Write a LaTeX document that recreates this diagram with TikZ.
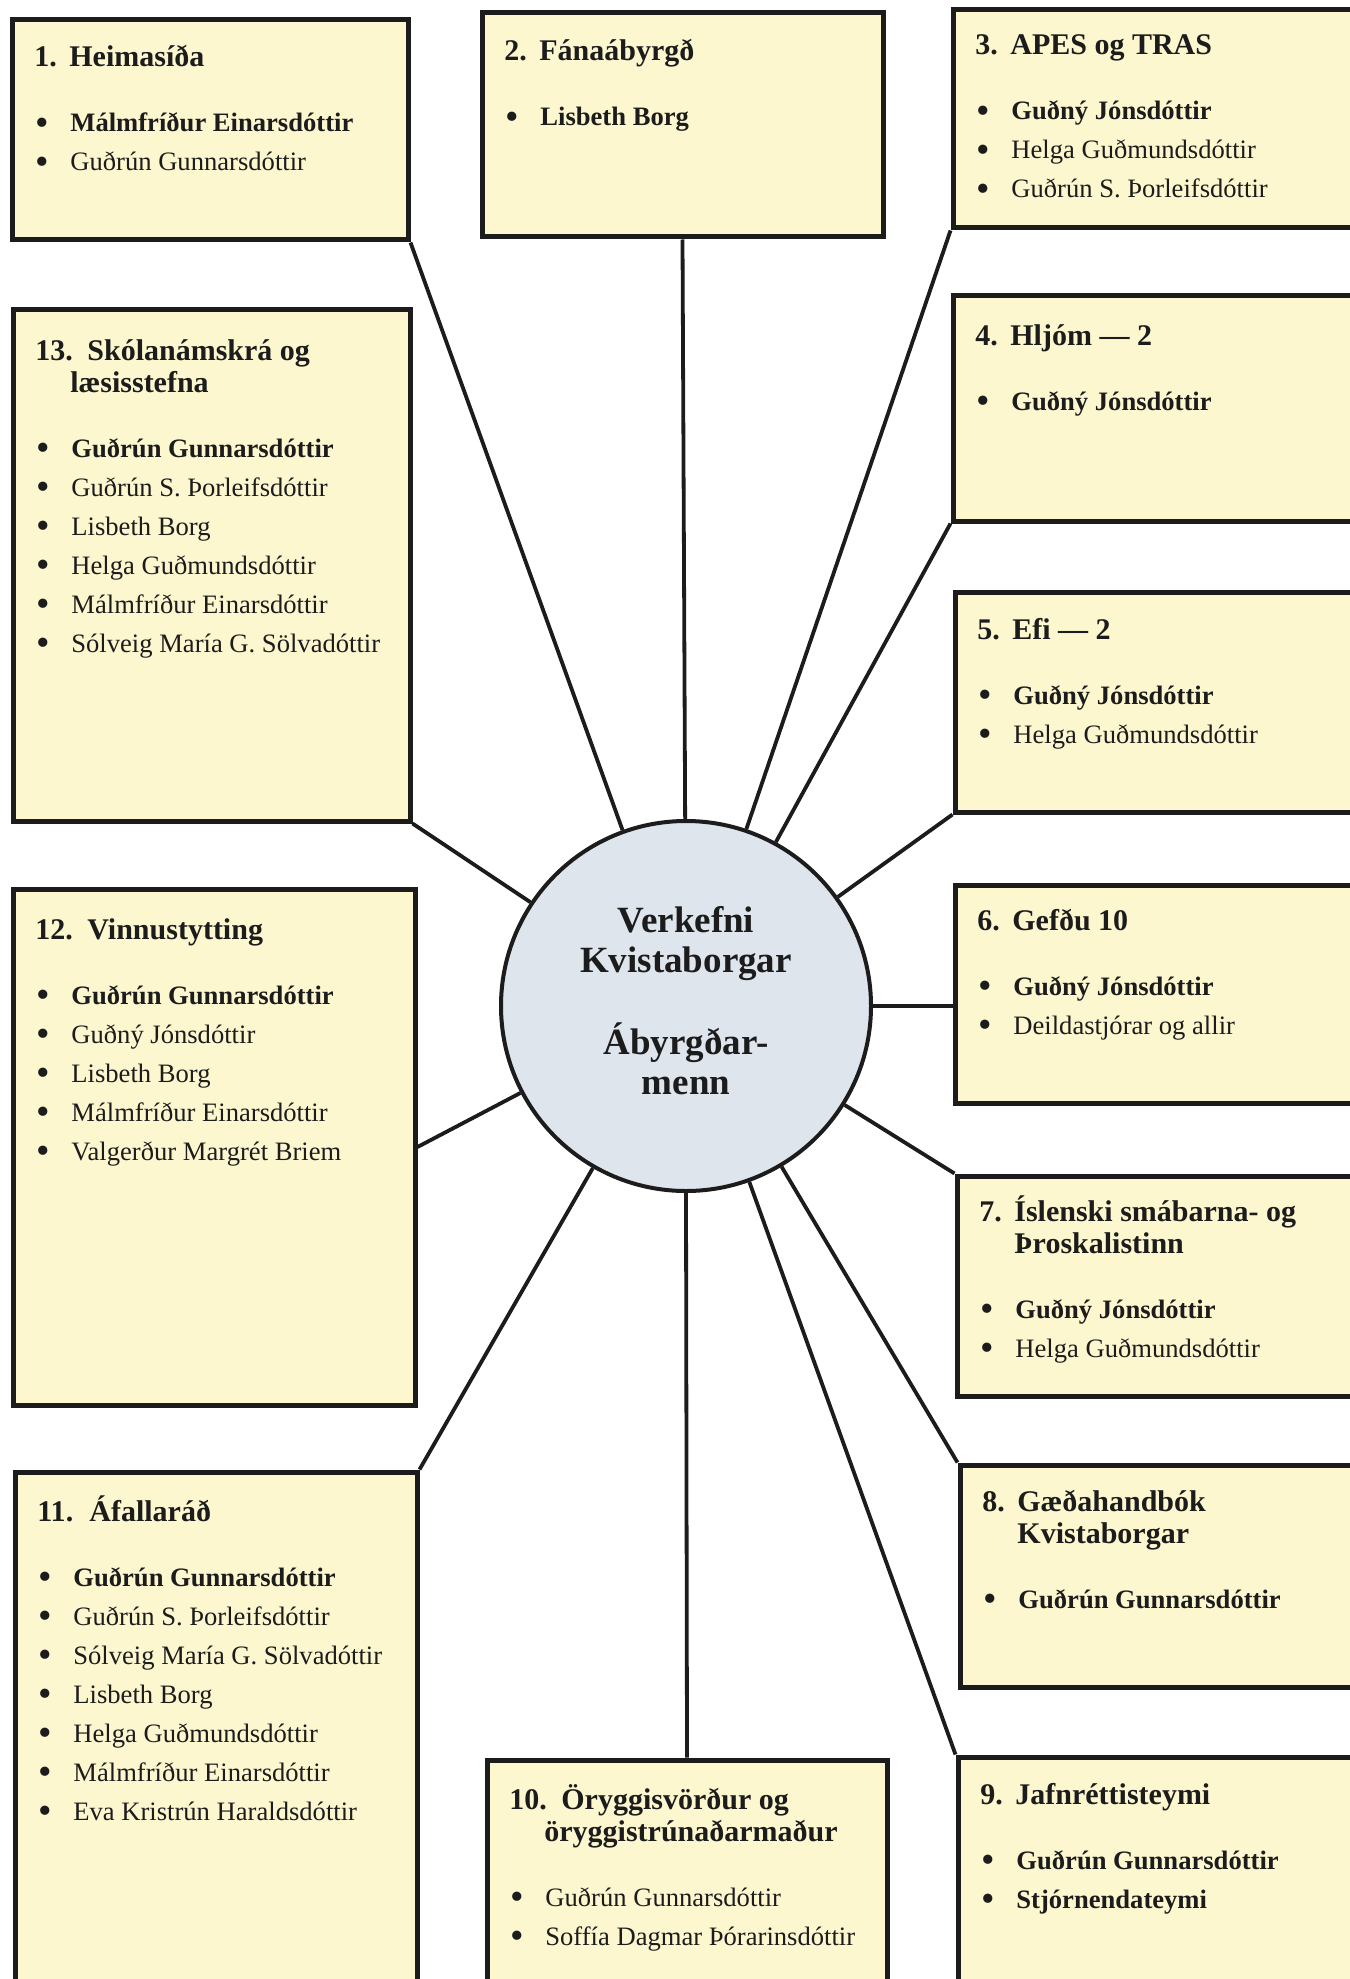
\documentclass[tikz,border=0pt]{standalone}
\usepackage{fontspec}
\setmainfont{Liberation Serif}
\usetikzlibrary{fit}
\definecolor{boxfill}{RGB}{253,247,208}
\definecolor{circfill}{RGB}{222,229,237}
\definecolor{ink}{RGB}{28,28,28}

\newcommand\hfnt{\fontsize{15}{16}\selectfont\bfseries}
\newcommand\bfnt{\fontsize{13.3}{15}\selectfont}
\newcommand\blt{\makebox[18pt][l]{\hskip0.5pt\raisebox{-0.12em}{\scalebox{1.45}{\textbullet}}}}
\newcommand\hdA[2]{\hbox{\hfnt\makebox[17.5pt][l]{#1}#2}}
\newcommand\hdB[2]{\hbox{\hfnt\makebox[26pt][l]{#1}#2}}
\newcommand\hdC[1]{\hbox{\hfnt\hskip17.5pt\relax #1}}
\newcommand\itB[1]{\hbox{\bfnt\blt\textbf{#1}}}
\newcommand\itR[1]{\hbox{\bfnt\blt #1}}
\newcommand\gH{\baselineskip=16.25pt\relax}
\newcommand\gF{\baselineskip=32.5pt\relax}
\newcommand\gI{\baselineskip=19.5pt\relax}
\newcommand\txtblock[1]{\vtop{\lineskiplimit=-\maxdimen\lineskip=0pt\relax #1}}

\begin{document}
\begin{tikzpicture}[x=0.5pt,y=-0.5pt,
  tbox/.style={draw=ink, line width=2.5pt, fill=boxfill, inner sep=0pt},
  tblk/.style={anchor=base west, inner sep=0pt, text=ink},
  conn/.style={draw=ink, line width=1.9pt},
  hub/.style={circle, draw=ink, line width=2pt, fill=circfill, minimum size=185pt,
    inner sep=0pt, align=center, text=ink, font=\fontsize{18.5}{20}\selectfont\bfseries}]
\useasboundingbox (0,0) rectangle (1349,1979);

% boxes
\node[tbox, fit={(12,20) (408,240)}] (b1) {};
\node[tbox, fit={(482,13) (883,237)}] (b2) {};
\node[tbox, fit={(953,10) (1358,228)}] (b3) {};
\node[tbox, fit={(953,296) (1358,521)}] (b4) {};
\node[tbox, fit={(955,592) (1358,812)}] (b5) {};
\node[tbox, fit={(955,885) (1358,1103)}] (b6) {};
\node[tbox, fit={(957,1176) (1358,1396)}] (b7) {};
\node[tbox, fit={(960,1465) (1358,1687)}] (b8) {};
\node[tbox, fit={(958,1757) (1358,1995)}] (b9) {};
\node[tbox, fit={(487,1760) (887,1995)}] (b10) {};
\node[tbox, fit={(15,1472) (417,1995)}] (b11) {};
\node[tbox, fit={(13,889) (415,1405)}] (b12) {};
\node[tbox, fit={(13,310) (410,821)}] (b13) {};

% hub
\node[hub] (c) at (686,1006) {Verkefni\\Kvistaborgar\\[21pt]Ábyrgðar-\\menn\rule[-6pt]{0pt}{6pt}};

% connectors
\draw[conn] (b1.south east) -- (c);
\draw[conn] (b2.south) -- (c);
\draw[conn] (b3.south west) -- (c);
\draw[conn] (b4.south west) -- (c);
\draw[conn] (b5.south west) -- (c);
\draw[conn] (c.east) -- (c.east -| b6.west);
\draw[conn] (b7.north west) -- (c);
\draw[conn] (b8.north west) -- (c);
\draw[conn] (b9.north west) -- (c);
\draw[conn] (c.south) -- (b10.north);
\draw[conn] (b11.north east) -- (c);
\draw[conn] (b12.east) -- (c);
\draw[conn] (b13.south east) -- (c);

% texts
\node[tblk] (t1) at (34,67) {\txtblock{\hdA{1.}{Heimasíða}\gF\itB{Málmfríður Einarsdóttir}\gI\itR{Guðrún Gunnarsdóttir}}};
\node[tblk] (t2) at (504,61) {\txtblock{\hdA{2.}{Fánaábyrgð}\gF\itB{Lisbeth Borg}}};
\node[tblk] (t3) at (975,55) {\txtblock{\hdA{3.}{APES og TRAS}\gF\itB{Guðný Jónsdóttir}\gI\itR{Helga Guðmundsdóttir}\itR{Guðrún S. Þorleifsdóttir}}};
\node[tblk] (t4) at (975,345) {\txtblock{\hdA{4.}{Hljóm — 2}\gF\itB{Guðný Jónsdóttir}}};
\node[tblk] (t5) at (977,639) {\txtblock{\hdA{5.}{Efi — 2}\gF\itB{Guðný Jónsdóttir}\gI\itR{Helga Guðmundsdóttir}}};
\node[tblk] (t6) at (977,930) {\txtblock{\hdA{6.}{Gefðu 10}\gF\itB{Guðný Jónsdóttir}\gI\itR{Deildastjórar og allir}}};
\node[tblk] (t7) at (979,1221) {\txtblock{\hdA{7.}{Íslenski smábarna- og}\gH\hdC{Þroskalistinn}\gF\itB{Guðný Jónsdóttir}\gI\itR{Helga Guðmundsdóttir}}};
\node[tblk] (t8) at (982,1511) {\txtblock{\hdA{8.}{Gæðahandbók}\gH\hdC{Kvistaborgar}\gF\itB{Guðrún Gunnarsdóttir}}};
\node[tblk] (t9) at (980,1804) {\txtblock{\hdA{9.}{Jafnréttisteymi}\gF\itB{Guðrún Gunnarsdóttir}\gI\itB{Stjórnendateymi}}};
\node[tblk] (t10) at (509,1809) {\txtblock{\hdB{10.}{Öryggisvörður og}\gH\hdC{öryggistrúnaðarmaður}\gF\itR{Guðrún Gunnarsdóttir}\gI\itR{Soffía Dagmar Þórarinsdóttir}}};
\node[tblk] (t11) at (37,1521) {\txtblock{\hdB{11.}{Áfallaráð}\gF\itB{Guðrún Gunnarsdóttir}\gI\itR{Guðrún S. Þorleifsdóttir}\itR{Sólveig María G. Sölvadóttir}\itR{Lisbeth Borg}\itR{Helga Guðmundsdóttir}\itR{Málmfríður Einarsdóttir}\itR{Eva Kristrún Haraldsdóttir}}};
\node[tblk] (t12) at (35,939) {\txtblock{\hdB{12.}{Vinnustytting}\gF\itB{Guðrún Gunnarsdóttir}\gI\itR{Guðný Jónsdóttir}\itR{Lisbeth Borg}\itR{Málmfríður Einarsdóttir}\itR{Valgerður Margrét Briem}}};
\node[tblk] (t13) at (35,360) {\txtblock{\hdB{13.}{Skólanámskrá og}\gH\hdC{læsisstefna}\gF\itB{Guðrún Gunnarsdóttir}\gI\itR{Guðrún S. Þorleifsdóttir}\itR{Lisbeth Borg}\itR{Helga Guðmundsdóttir}\itR{Málmfríður Einarsdóttir}\itR{Sólveig María G. Sölvadóttir}}};
\end{tikzpicture}
\end{document}
